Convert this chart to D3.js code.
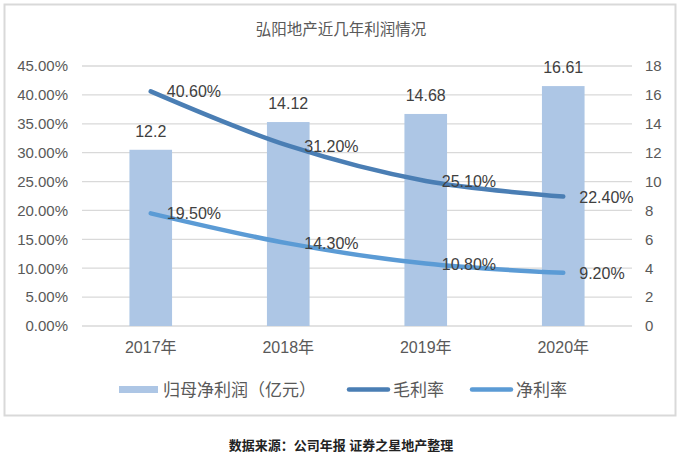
<!DOCTYPE html>
<html><head><meta charset="utf-8">
<script src="https://cdn.jsdelivr.net/npm/d3@7"></script>
<style>body{margin:0;background:#fff}svg{display:block}text{font-family:"Liberation Sans","Noto Sans CJK SC",sans-serif}</style>
</head><body>
<script>
const categories = ["2017年","2018年","2019年","2020年"];
const netProfit = [12.2, 14.12, 14.68, 16.61];
const grossMargin = [40.6, 31.2, 25.1, 22.4];
const netMargin = [19.5, 14.3, 10.8, 9.2];
const leftTicks = [0,5,10,15,20,25,30,35,40,45];
const rightTicks = [0,2,4,6,8,10,12,14,16,18];
const legendLabels = ["归母净利润（亿元）","毛利率","净利率"];

const W=681,H=461;
const svg=d3.select("body").append("svg").attr("width",W).attr("height",H);
svg.append("rect").attr("x",4.5).attr("y",4.5).attr("width",671).attr("height",411).attr("fill","#fff").attr("stroke","#d9d9d9").attr("stroke-width",2);
svg.append("text").attr("x",341).attr("y",35).attr("text-anchor","middle").attr("font-size",15.5).attr("fill","#595959").text("弘阳地产近几年利润情况");

const x=d3.scaleBand().domain(categories).range([82,632]).paddingInner(0.69).paddingOuter(0.345);
const yL=d3.scaleLinear().domain([0,45]).range([326,66]);
const yR=d3.scaleLinear().domain([0,18]).range([326,66]);

svg.append("g").selectAll("line").data(leftTicks).join("line")
 .attr("x1",82).attr("x2",632).attr("y1",d=>yL(d)).attr("y2",d=>yL(d)).attr("stroke","#d9d9d9").attr("stroke-width",1.3);

const axL=svg.append("g").attr("transform","translate(82,0)").call(d3.axisLeft(yL).tickValues(leftTicks).tickSize(0).tickPadding(14).tickFormat(d=>d.toFixed(2)+"%"));
const axR=svg.append("g").attr("transform","translate(632,0)").call(d3.axisRight(yR).tickValues(rightTicks).tickSize(0).tickPadding(13));
const axB=svg.append("g").attr("transform","translate(0,326)").call(d3.axisBottom(x).tickSize(0).tickPadding(16));
[axL,axR].forEach(a=>{a.select(".domain").remove();a.selectAll("text").attr("font-size",15).attr("fill","#595959").style("font-family",'"Liberation Sans","Noto Sans CJK SC",sans-serif');});
axB.select(".domain").remove();
axB.selectAll("text").attr("font-size",16).attr("fill","#595959").style("font-family",'"Liberation Sans","Noto Sans CJK SC",sans-serif');

const bw=x.bandwidth();
svg.append("g").selectAll("rect").data(netProfit).join("rect")
 .attr("x",(d,i)=>x(categories[i])).attr("width",bw).attr("y",d=>yR(d)).attr("height",d=>yR(0)-yR(d)).attr("fill","#adc6e5");
svg.append("g").selectAll("text").data(netProfit).join("text")
 .attr("x",(d,i)=>x(categories[i])+bw/2).attr("y",d=>yR(d)-13).attr("text-anchor","middle").attr("font-size",16).attr("fill","#404040").text(d=>d);

const cx=i=>x(categories[i])+bw/2;
const line=d3.line().x((d,i)=>cx(i)).y(d=>yL(d)).curve(d3.curveCatmullRom.alpha(0.5));
svg.append("path").datum(grossMargin).attr("d",line).attr("fill","none").attr("stroke","#4a7eb4").attr("stroke-width",4.5).attr("stroke-linecap","round");
svg.append("path").datum(netMargin).attr("d",line).attr("fill","none").attr("stroke","#5b9bd5").attr("stroke-width",4.5).attr("stroke-linecap","round");
[grossMargin,netMargin].forEach(s=>{
 svg.append("g").selectAll("text").data(s).join("text")
 .attr("x",(d,i)=>cx(i)+16).attr("y",d=>yL(d)+6).attr("font-size",16).attr("fill","#404040").text(d=>d.toFixed(2)+"%");
});

// legend
const lg=svg.append("g").attr("font-size",17).attr("fill","#595959");
lg.append("rect").attr("x",119).attr("y",386).attr("width",39).attr("height",7).attr("fill","#adc6e5");
lg.append("text").attr("x",163).attr("y",396).attr("fill","#595959").text(legendLabels[0]);
lg.append("line").attr("x1",349).attr("x2",388).attr("y1",389.5).attr("y2",389.5).attr("stroke","#4a7eb4").attr("stroke-width",4.5).attr("stroke-linecap","round");
lg.append("text").attr("x",393).attr("y",396).attr("fill","#595959").text(legendLabels[1]);
lg.append("line").attr("x1",472).attr("x2",511).attr("y1",389.5).attr("y2",389.5).attr("stroke","#5b9bd5").attr("stroke-width",4.5).attr("stroke-linecap","round");
lg.append("text").attr("x",516).attr("y",396).attr("fill","#595959").text(legendLabels[2]);

svg.append("text").attr("x",341).attr("y",450).attr("text-anchor","middle").attr("font-size",13).attr("font-weight","bold").attr("fill","#222").text("数据来源：公司年报  证券之星地产整理");
</script>
</body></html>
